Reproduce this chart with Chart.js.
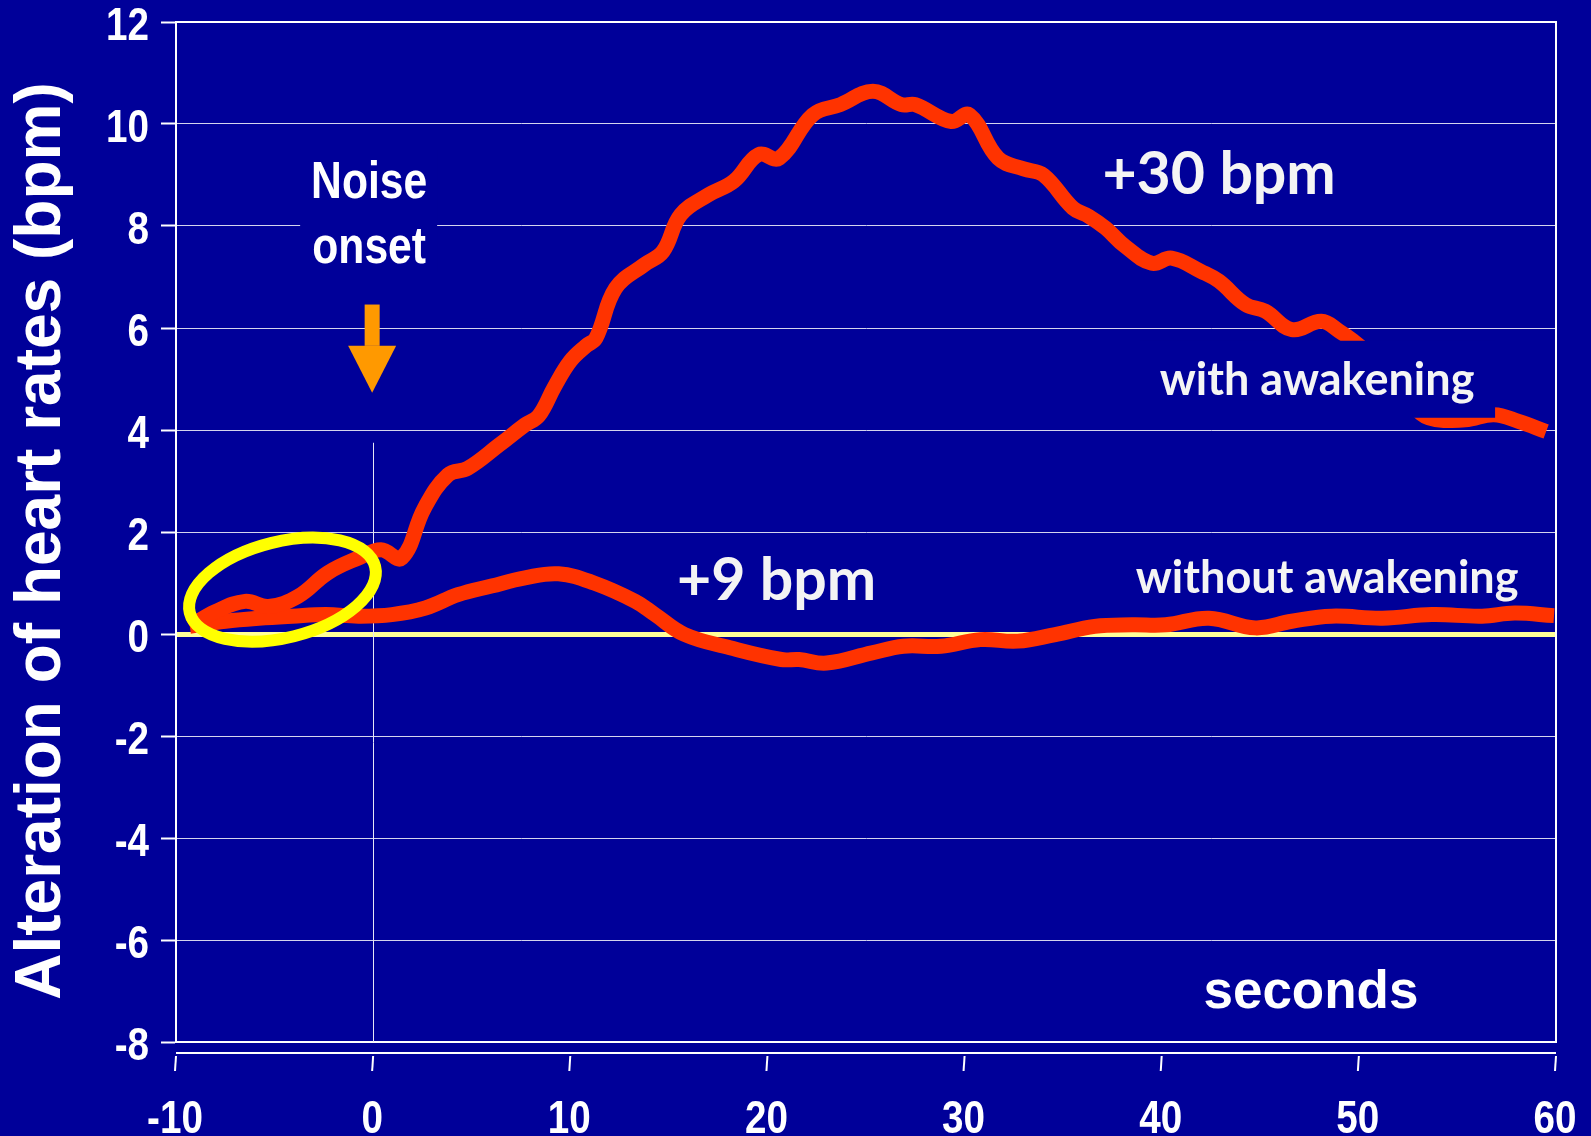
<!DOCTYPE html>
<html>
<head>
<meta charset="utf-8">
<script src="https://cdn.jsdelivr.net/npm/chart.js@4.4.1/dist/chart.umd.min.js"></script>
<style>
html,body{margin:0;padding:0;background:#000099;overflow:hidden}
#wrap{width:1591px;height:1136px}
</style>
</head>
<body>
<div id="wrap"><canvas id="c" width="1591" height="1136"></canvas></div>
<script>
// ---------------- data ----------------
const timeWithAwakening = [-9.3,-8.0,-6.5,-5.3,-3.8,-2.3,-0.75,0.4,1.45,2.6,3.8,4.8,6.4,7.7,8.4,9.2,10.0,10.8,11.3,12.3,13.75,14.7,15.6,17.0,18.3,19.55,20.6,22.3,23.7,25.35,26.8,27.5,29.3,30.25,31.7,33.0,34.0,35.5,36.3,37.15,38.15,39.5,40.5,42.0,42.9,44.25,45.25,46.6,48.1,49.0,49.7,50.6,51.6,52.6,53.55,55.4,56.85,58.1,59.5];
const hrWithAwakening = [0.15,0.44,0.64,0.54,0.74,1.20,1.49,1.65,1.49,2.47,3.12,3.25,3.71,4.10,4.28,4.85,5.35,5.65,5.8,6.78,7.24,7.50,8.22,8.61,8.88,9.40,9.33,10.18,10.38,10.64,10.38,10.38,10.05,10.18,9.33,9.12,9.0,8.35,8.19,7.96,7.60,7.27,7.37,7.11,6.92,6.46,6.33,5.97,6.13,5.94,5.75,5.45,5.0,4.55,4.24,4.20,4.30,4.17,3.97];
const timeWithoutAwakening = [-9.3,-7.5,-5.8,-4.1,-2.4,-0.75,0.95,2.65,4.3,6.0,7.7,9.4,11.2,13.3,14.3,15.8,18.1,20.7,21.6,23.0,25.3,26.9,28.8,30.8,32.7,34.6,36.6,38.5,40.2,42.4,44.75,46.6,48.6,51.2,53.7,56.25,57.9,59.9];
const hrWithoutAwakening = [0.15,0.25,0.31,0.35,0.38,0.35,0.38,0.51,0.77,0.94,1.10,1.18,1.0,0.64,0.38,-0.01,-0.27,-0.50,-0.50,-0.57,-0.37,-0.24,-0.24,-0.11,-0.14,-0.01,0.15,0.18,0.18,0.31,0.12,0.25,0.35,0.31,0.38,0.35,0.41,0.36];
const xTickValues = [-10,0,10,20,30,40,50,60];
const yTickValues = [-8,-6,-4,-2,0,2,4,6,8,10,12];
const noiseOnsetTime = 0;
const yAxisTitle = 'Alteration of heart rates (bpm)';
const xAxisTitle = 'seconds';
const labelWith = 'with awakening';
const labelWithout = 'without awakening';
const labelPeakWith = '+30 bpm';
const labelPeakWithout = '+9 bpm';
const labelOnset = ['Noise', 'onset'];

// ---------------- styles ----------------
const BG = '#000099';
const LINE = '#FF3300';
const ARIAL = "'Liberation Sans', Arial, sans-serif";
const CAL = "Lato, Carlito, 'Open Sans', sans-serif";
const NARROW_X = 0.84;

function narrowText(ctx, text, x, y, align, sx) {
  ctx.save();
  ctx.translate(x, y);
  ctx.scale(sx, 1);
  ctx.textAlign = align;
  ctx.fillText(text, 0, 0);
  ctx.restore();
}

const overlay = {
  id: 'overlay',
  beforeDraw(chart) {
    const {ctx, width, height} = chart;
    ctx.save(); ctx.fillStyle = BG; ctx.fillRect(0, 0, width, height); ctx.restore();
  },
  beforeDatasetsDraw(chart) {
    const {ctx, chartArea: a, scales: {x, y}} = chart;
    ctx.save();
    ctx.strokeStyle = '#FFFFFF'; ctx.lineWidth = 2;
    ctx.beginPath();
    ctx.moveTo(a.left, a.top); ctx.lineTo(a.right, a.top);
    ctx.lineTo(a.right, a.bottom); ctx.lineTo(a.left, a.bottom);
    ctx.stroke();
    // onset vertical line
    const x0 = Math.round(x.getPixelForValue(noiseOnsetTime)) + 0.5;
    ctx.lineWidth = 1; ctx.strokeStyle = '#E6E6F5';
    ctx.beginPath(); ctx.moveTo(x0, y.getPixelForValue(3.75)); ctx.lineTo(x0, a.bottom); ctx.stroke();
    // detached x axis line with tick marks
    const yl = a.bottom + 11;
    ctx.lineWidth = 2; ctx.strokeStyle = '#FFFFFF';
    ctx.beginPath();
    ctx.moveTo(x.getPixelForValue(xTickValues[0]), yl);
    ctx.lineTo(x.getPixelForValue(xTickValues[xTickValues.length - 1]), yl);
    ctx.stroke();
    xTickValues.forEach(v => {
      const px = x.getPixelForValue(v);
      ctx.beginPath(); ctx.moveTo(px, yl + 3); ctx.lineTo(px - 1, yl + 18); ctx.stroke();
    });
    ctx.restore();
  },
  afterDatasetsDraw(chart) {
    const {ctx, chartArea: a, scales: {x, y}} = chart;
    const X = v => x.getPixelForValue(v), Y = v => y.getPixelForValue(v);
    ctx.save();
    // mask boxes behind labels
    ctx.fillStyle = BG;
    ctx.fillRect(X(38.85), Y(5.75), X(56.91) - X(38.85), Y(4.24) - Y(5.75));
    const x0 = X(noiseOnsetTime);
    ctx.fillRect(x0 - 73, Y(9.5), 137, Y(7.11) - Y(9.5));

    ctx.textAlign = 'center'; ctx.textBaseline = 'alphabetic';
    ctx.fillStyle = '#F4F4F4';
    ctx.font = 'bold 45px ' + CAL;
    ctx.fillText(labelWith, X(47.88), Y(4.69));
    ctx.fillText(labelWithout, X(48.39), Y(0.80));
    ctx.font = 'bold 59px ' + CAL;
    ctx.fillText(labelPeakWith, X(42.91), Y(8.62));
    ctx.fillText(labelPeakWithout, X(20.46), Y(0.66));

    ctx.fillStyle = '#FFFFFF';
    ctx.font = 'bold 53px ' + ARIAL;
    ctx.fillText(xAxisTitle, X(47.57), Y(-7.33));
    ctx.font = 'bold 52px ' + ARIAL;
    narrowText(ctx, labelOnset[0], x0 - 4, Y(8.54), 'center', 0.82);
    narrowText(ctx, labelOnset[1], x0 - 4, Y(7.28), 'center', 0.82);

    // tick labels (condensed bold, placed with the chart's scales)
    ctx.font = 'bold 46px ' + ARIAL;
    yTickValues.forEach(v => narrowText(ctx, String(v), a.left - 27, Y(v) + 18, 'right', NARROW_X));
    xTickValues.forEach(v => narrowText(ctx, String(v), X(v) - 1, a.bottom + 91, 'center', NARROW_X));

    // arrow
    const ax = x0 - 1;
    ctx.fillStyle = '#FF9900';
    ctx.fillRect(ax - 7.5, Y(6.46), 15, Y(5.65) - Y(6.46));
    ctx.beginPath();
    ctx.moveTo(ax - 24, Y(5.65)); ctx.lineTo(ax + 24, Y(5.65)); ctx.lineTo(ax, Y(4.73));
    ctx.closePath(); ctx.fill();

    // highlight ellipse
    ctx.strokeStyle = '#FFFF00'; ctx.lineWidth = 12;
    ctx.beginPath();
    ctx.ellipse(X(-4.60), Y(0.87), 95.5, 48, -14 * Math.PI / 180, 0, Math.PI * 2);
    ctx.stroke();
    ctx.restore();
  }
};

const toPts = (t, v) => t.map((tt, i) => ({x: tt, y: v[i]}));

function shiftTitle(s) {
  if (s._titleShifted) return;
  const orig = s.drawTitle;
  s.drawTitle = function () {
    this.ctx.save();
    this.ctx.translate(0, 9);
    orig.apply(this, arguments);
    this.ctx.restore();
  };
  s._titleShifted = true;
}

new Chart(document.getElementById('c'), {
  type: 'line',
  data: {
    datasets: [
      {label: labelWith, data: toPts(timeWithAwakening, hrWithAwakening), borderColor: LINE, borderWidth: 15, pointRadius: 0, tension: 0.4, borderCapStyle: 'butt', borderJoinStyle: 'round', fill: false},
      {label: labelWithout, data: toPts(timeWithoutAwakening, hrWithoutAwakening), borderColor: LINE, borderWidth: 15, pointRadius: 0, tension: 0.4, borderCapStyle: 'butt', borderJoinStyle: 'round', fill: false}
    ]
  },
  options: {
    responsive: false,
    animation: false,
    devicePixelRatio: 1,
    layout: {padding: {top: 22, right: 35, bottom: 0, left: 0}},
    plugins: {legend: {display: false}, tooltip: {enabled: false}},
    scales: {
      x: {
        type: 'linear',
        min: xTickValues[0], max: xTickValues[xTickValues.length - 1],
        afterBuildTicks: s => { s.ticks = xTickValues.map(v => ({value: v})); },
        afterFit: s => { s.height = 94; },
        grid: {display: false, drawTicks: false},
        border: {display: false},
        ticks: {display: false}
      },
      y: {
        type: 'linear',
        min: yTickValues[0], max: yTickValues[yTickValues.length - 1],
        afterBuildTicks: s => { s.ticks = yTickValues.map(v => ({value: v})); },
        afterFit: s => { s.width = 176; shiftTitle(s); },
        grid: {
          color: c => (c.tick && c.tick.value === 0) ? '#FFFF99' : '#D4D4EE',
          lineWidth: c => (c.tick && c.tick.value === 0) ? 5 : 1,
          tickColor: '#FFFFFF', tickWidth: 2, tickLength: 15, drawTicks: true
        },
        border: {display: true, color: '#FFFFFF', width: 2},
        ticks: {display: false},
        title: {display: true, text: yAxisTitle, color: '#FFFFFF',
          padding: {top: 10, bottom: 0},
          font: {family: ARIAL, weight: 'bold', size: 64, lineHeight: 1}}
      }
    }
  },
  plugins: [overlay]
});
</script>
</body>
</html>
